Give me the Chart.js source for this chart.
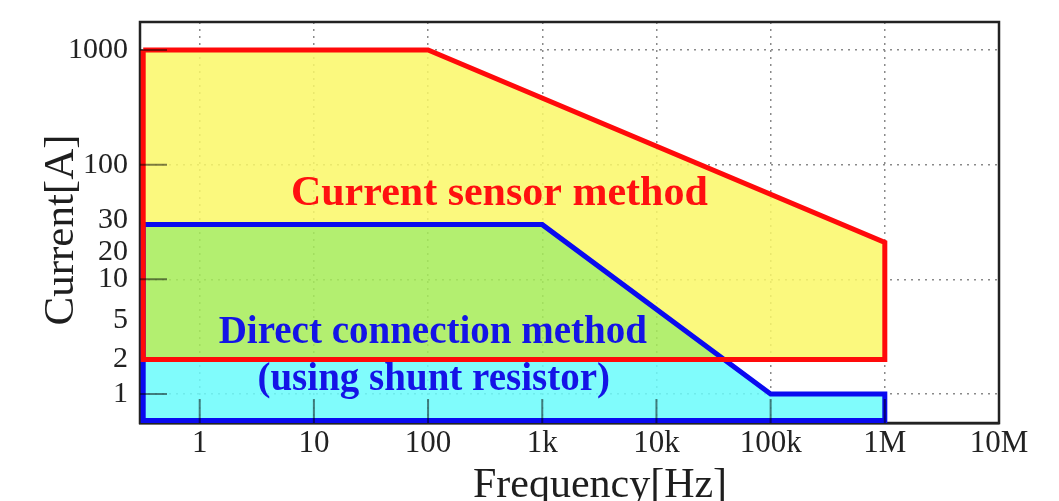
<!DOCTYPE html>
<html>
<head>
<meta charset="utf-8">
<script src="https://cdn.jsdelivr.net/npm/chart.js@4/dist/chart.umd.min.js"></script>
<style>
  html, body { margin: 0; padding: 0; background: #fff; }
  #wrap { width: 1059px; height: 501px; }
</style>
</head>
<body>
<div id="wrap"><canvas id="rangeChart" width="1059" height="501"></canvas></div>
<script>
// axis ranges and ticks
var freqMin = 0.31;
var freqMax = 1e7;
var currentMin = 0.56;
var currentMax = 1750;
var freqTicks = [1, 10, 100, 1e3, 1e4, 1e5, 1e6, 1e7];
var freqTickLabels = ['1', '10', '100', '1k', '10k', '100k', '1M', '10M'];
var currentTicks = [1, 2, 5, 10, 20, 30, 100, 1000];
var currentGrid = [1, 10, 100, 1000];

// current sensor method (red outline)
var sensorFreq = [0.32, 100, 1e6, 1e6, 0.32, 0.32];
var sensorCurrent = [1000, 1000, 21, 2, 2, 1000];

// direct connection method (blue outline)
var shuntFreq = [0.32, 1000, 1e5, 1e6, 1e6, 0.32, 0.32];
var shuntCurrent = [30, 30, 1, 1, 0.59, 0.59, 30];

// filled regions
var yellowFreq = [0.32, 100, 1e6, 1e6, 38000, 1000, 0.32];
var yellowCurrent = [1000, 1000, 21, 2, 2, 30, 30];
var greenFreq = [0.32, 1000, 38000, 0.32];
var greenCurrent = [30, 30, 2, 2];
var cyanFreq = [0.32, 38000, 1e5, 1e6, 1e6, 0.32];
var cyanCurrent = [2, 2, 1, 1, 0.59, 0.59];

function points(xs, ys) {
    return xs.map(function (x, i) { return { x: x, y: ys[i] }; });
}

function area(xs, ys, color, order) {
    return {
        data: points(xs, ys),
        backgroundColor: color,
        borderColor: 'rgba(0,0,0,0)',
        borderWidth: 0,
        fill: 'shape',
        pointRadius: 0,
        tension: 0,
        order: order
    };
}

function outline(xs, ys, color, order) {
    return {
        data: points(xs, ys),
        borderColor: color,
        borderWidth: 5,
        borderJoinStyle: 'miter',
        fill: false,
        pointRadius: 0,
        tension: 0,
        order: order
    };
}

var serif = "'Liberation Serif', 'DejaVu Serif', serif";
Chart.defaults.font.family = serif;

// crowded y labels are nudged apart like in the original figure
var labelNudge = { 30: -8, 20: 14, 5: 12 };

var notes = [
    { text: 'Current sensor method', x: 421, y: 44.4, color: '#ff1010', size: 42 },
    { text: 'Direct connection method', x: 110, y: 2.78, color: '#1414e6', size: 39 },
    { text: '(using shunt resistor)', x: 112, y: 1.08, color: '#1414e6', size: 39 }
];

var overlay = {
    id: 'overlay',
    beforeDatasetsDraw: function (chart) {
        var a = chart.chartArea, c = chart.ctx;
        c.save();
        c.strokeStyle = '#222';
        c.lineWidth = 2.5;
        c.strokeRect(a.left, a.top, a.right - a.left, a.bottom - a.top);
        c.restore();
    },
    afterDatasetsDraw: function (chart) {
        var a = chart.chartArea, c = chart.ctx;
        var xs = chart.scales.x, ys = chart.scales.y;
        c.save();
        // inward tick marks
        c.strokeStyle = 'rgba(0,0,0,0.5)';
        c.lineWidth = 2;
        c.beginPath();
        freqTicks.forEach(function (v) {
            if (v >= freqMax) return;
            var px = xs.getPixelForValue(v);
            c.moveTo(px, a.bottom);
            c.lineTo(px, a.bottom - 24);
        });
        currentGrid.forEach(function (v) {
            var py = ys.getPixelForValue(v);
            c.moveTo(a.left, py);
            c.lineTo(a.left + 27, py);
        });
        c.stroke();

        // region labels
        c.textAlign = 'center';
        c.textBaseline = 'alphabetic';
        notes.forEach(function (n) {
            c.font = 'bold ' + n.size + 'px ' + serif;
            c.fillStyle = n.color;
            c.fillText(n.text, xs.getPixelForValue(n.x), ys.getPixelForValue(n.y));
        });

        // axis titles
        c.fillStyle = '#1e1e1e';
        c.font = '42px ' + serif;
        c.fillText('Frequency[Hz]', 600, 497);
        c.translate(73, 230);
        c.rotate(-Math.PI / 2);
        c.font = '43px ' + serif;
        c.fillText('Current[A]', 0, 0);
        c.restore();
    }
};

new Chart(document.getElementById('rangeChart'), {
    type: 'line',
    data: {
        datasets: [
            area(yellowFreq, yellowCurrent, 'rgba(250,248,103,0.85)', 5),
            area(greenFreq, greenCurrent, 'rgba(166,236,87,0.85)', 4),
            area(cyanFreq, cyanCurrent, 'rgba(106,252,252,0.85)', 3),
            outline(shuntFreq, shuntCurrent, '#0a0af0', 2),
            outline(sensorFreq, sensorCurrent, '#ff0a0a', 1)
        ]
    },
    options: {
        responsive: false,
        animation: false,
        layout: { padding: { top: 22, right: 60, left: 0, bottom: 0 } },
        plugins: { legend: { display: false }, tooltip: { enabled: false } },
        scales: {
            x: {
                type: 'logarithmic',
                min: freqMin,
                max: freqMax,
                afterBuildTicks: function (scale) {
                    scale.ticks = freqTicks.map(function (v) { return { value: v }; });
                },
                afterFit: function (scale) {
                    scale.height = 78;
                    scale.paddingLeft = 0;
                    scale.paddingRight = 0;
                },
                ticks: {
                    autoSkip: false,
                    maxRotation: 0,
                    padding: 2,
                    color: '#222',
                    font: { size: 31 },
                    callback: function (value) {
                        var i = freqTicks.indexOf(value);
                        return i >= 0 ? freqTickLabels[i] : '';
                    }
                },
                grid: { color: '#8a8a8a', lineWidth: 1.5, drawTicks: false },
                border: { color: '#222', width: 2.5, dash: [2, 5] }
            },
            y: {
                type: 'logarithmic',
                min: currentMin,
                max: currentMax,
                afterBuildTicks: function (scale) {
                    scale.ticks = currentTicks.map(function (v) { return { value: v }; });
                },
                afterFit: function (scale) {
                    scale.width = 140;
                    scale.paddingTop = 0;
                    scale.paddingBottom = 0;
                },
                ticks: {
                    autoSkip: false,
                    padding: 12,
                    color: '#222',
                    font: function (ctx) {
                        var v = ctx.tick ? ctx.tick.value : null;
                        var n = labelNudge[v];
                        return { size: 30, lineHeight: n ? Math.abs(n) + 'px' : 1.2 };
                    },
                    callback: function (value) {
                        var n = labelNudge[value];
                        if (!n) return String(value);
                        return n < 0 ? [String(value), ''] : ['', String(value)];
                    }
                },
                grid: {
                    lineWidth: 1.5,
                    drawTicks: false,
                    color: function (ctx) {
                        return ctx.tick && currentGrid.indexOf(ctx.tick.value) >= 0 ? '#8a8a8a' : 'rgba(0,0,0,0)';
                    }
                },
                border: { color: '#222', width: 2, dash: [2, 5] }
            }
        }
    },
    plugins: [overlay]
});
</script>
</body>
</html>
